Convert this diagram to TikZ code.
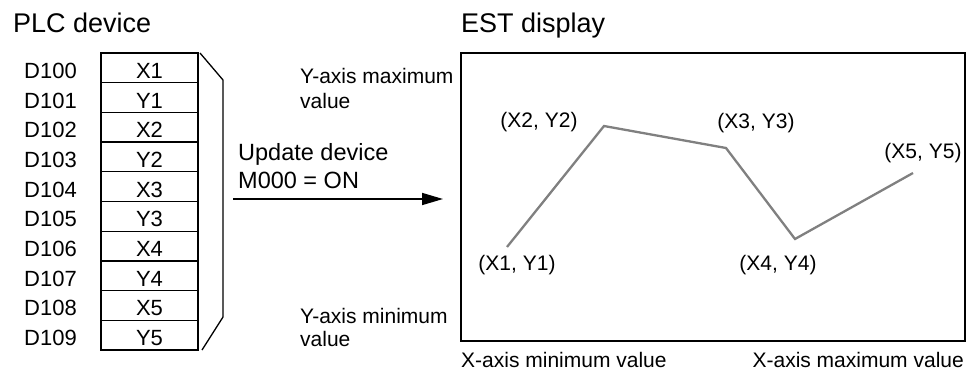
\documentclass[tikz,border=0pt]{standalone}
\usepackage{fontspec}
\setmainfont{Liberation Sans}
\usetikzlibrary{arrows.meta}
\begin{document}
\begin{tikzpicture}[x=1pt,y=-1pt,
  title/.style={font=\fontsize{27}{30}\selectfont,inner sep=0pt,anchor=base west},
  body/.style={font=\fontsize{21}{24}\selectfont,inner sep=0pt},
  cell/.style={draw,line width=1.3pt,minimum width=97pt,minimum height=29.7pt,inner sep=0pt,
    font=\fontsize{22}{24}\selectfont,text height=21pt,text depth=0pt},
  dlabel/.style={font=\fontsize{22}{24}\selectfont,inner sep=0pt,anchor=base west},
  plotline/.style={draw=black!50,line width=2.3pt}]
\useasboundingbox (0,0) rectangle (974,372);
\node[title] (plc) at (13,32) {PLC device};
\node[title] (est) at (461,32) {EST display};
% table
\foreach \i/\t in {0/X1,1/Y1,2/X2,3/Y2,4/X3,5/Y3,6/X4,7/Y4,8/X5,9/Y5}{
  \node[cell] (c\i) at (149.5,{53+29.7*(\i+0.5)}) {\t};
  \pgfmathtruncatemacro{\dn}{100+\i}
  \node[dlabel] (d\i) at (24,{53+29.7*(\i+0.5)+10.5}) {D\dn};
}
% bracket
\coordinate (b1) at (200,53);
\coordinate (b2) at (223,80);
\coordinate (b3) at (223,317);
\coordinate (b4) at (202,350);
\draw[line width=1.3pt] (b1) -- (b2) -- (b3) -- (b4);
% texts middle
\node[body,anchor=base west] (ymax1) at (300,83) {Y-axis maximum};
\node[body,anchor=base west] (ymax2) at (300,108) {value};
\node[body,anchor=base west] (ymin1) at (300,323) {Y-axis minimum};
\node[body,anchor=base west] (ymin2) at (300,346) {value};
\node[font=\fontsize{23.5}{28}\selectfont,inner sep=0pt,anchor=base west] (upd1) at (238,160) {Update device};
\node[font=\fontsize{23.5}{28}\selectfont,inner sep=0pt,anchor=base west] (upd2) at (238,188) {M000 = ON};
\coordinate (a1) at (233,199);
\coordinate (a2) at (443,199);
\draw[line width=1.6pt,-{Triangle[length=21pt,width=12pt]}] (a1) -- (a2);
% plot box
\coordinate (pb1) at (461,53);
\coordinate (pb2) at (965,341);
\draw[line width=1.8pt] (pb1) rectangle (pb2);
\coordinate (p1) at (507,247);
\coordinate (p2) at (604,126);
\coordinate (p3) at (726,148);
\coordinate (p4) at (795,239);
\coordinate (p5) at (913,173);
\draw[plotline] (p1) -- (p2) -- (p3) -- (p4) -- (p5);
\node[body,anchor=base] (l1) at (517,270) {(X1, Y1)};
\node[body,anchor=base] (l2) at (539,127) {(X2, Y2)};
\node[body,anchor=base] (l3) at (756,128) {(X3, Y3)};
\node[body,anchor=base] (l4) at (778,270) {(X4, Y4)};
\node[body,anchor=base] (l5) at (923,158) {(X5, Y5)};
\node[body,anchor=base west] (xmin) at (461,367) {X-axis minimum value};
\node[body,anchor=base east] (xmax) at (964,367) {X-axis maximum value};
\end{tikzpicture}
\end{document}
